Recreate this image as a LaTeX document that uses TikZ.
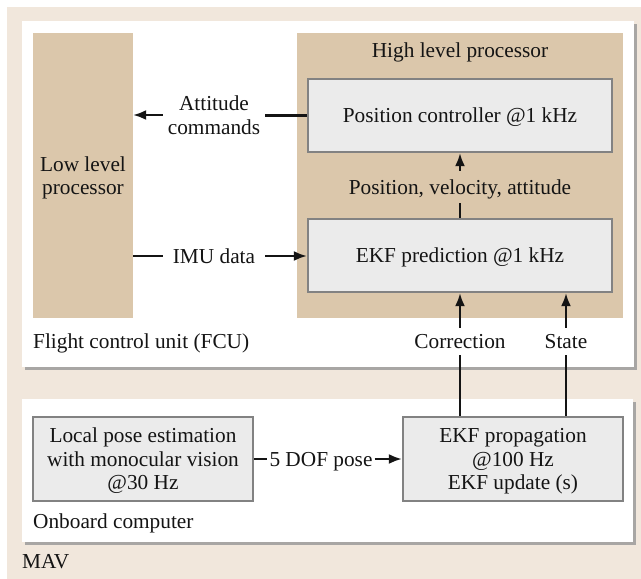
\documentclass[tikz,border=0pt]{standalone}
\usepackage{fontspec}
\setmainfont{Liberation Serif}
\usetikzlibrary{arrows.meta}
\definecolor{mavbg}{RGB}{241,231,220}
\definecolor{tanbg}{RGB}{219,199,171}
\definecolor{boxfill}{RGB}{235,235,235}
\definecolor{boxline}{RGB}{130,130,130}
\definecolor{txt}{RGB}{20,20,20}
\definecolor{shadowc}{RGB}{150,150,150}
\begin{document}
\begin{tikzpicture}[x=1pt,y=-1pt,
  every node/.style={font=\fontsize{21.3}{23.5}\selectfont, text=txt, text depth=0pt},
  procbox/.style={draw=boxline, line width=2.4pt, fill=boxfill, align=center, inner sep=0pt},
  lbl/.style={inner sep=0pt, align=center},
  conn/.style={line width=2.1pt, draw=txt},
  arr/.style={conn, -{Latex[length=13pt,width=10pt]}},
  panel/.style={fill=white},
  shadowbox/.style={fill=shadowc, opacity=0.8}
]
\useasboundingbox (0,0) rectangle (641,579);
\fill[white] (0,0) rectangle (641,579);
% MAV background
\fill[mavbg] (7,7) rectangle (641,579);
% FCU panel
\fill[shadowbox] (25,24) rectangle (637,370);
\fill[panel] (22,21) rectangle (634,367);
% Onboard panel
\fill[shadowbox] (25,402) rectangle (636,545);
\fill[panel] (22,399) rectangle (633,542);

% processors
\node[fill=tanbg, minimum width=100pt, minimum height=285pt, inner sep=0pt, align=center] (low) at (83,175.5) {Low level\\processor};
\fill[tanbg] (297,33) rectangle (623,318);
\node (hlp) at (460,50.5) {High level processor};

% boxes
\node[procbox, minimum width=304pt, minimum height=73pt] (pos) at (460,115.5) {Position controller @1 kHz};
\node[procbox, minimum width=304pt, minimum height=73pt] (ekfp) at (460,255.5) {EKF prediction @1 kHz};
\node[procbox, minimum width=220pt, minimum height=84pt] (vis) at (143,459) {Local pose estimation\\with monocular vision\\@30 Hz};
\node[procbox, minimum width=220pt, minimum height=84pt] (prop) at (513,459) {EKF propagation\\@100 Hz\\EKF update (s)};

% labels
\node[lbl, minimum width=102pt] (att) at (214,115) {Attitude\\commands};
\node[lbl, minimum width=102pt] (imu) at (214,256) {IMU data};
\node[lbl, minimum height=32pt] (pva) at (460,187) {Position, velocity, attitude};
\node[lbl, minimum height=27pt] (corr) at (460,341.5) {Correction};
\node[lbl, minimum height=27pt] (state) at (566,341.5) {State};
\node[inner sep=2pt] (dof) at (321,459) {5 DOF pose};

\node[anchor=west, inner sep=0pt] (fcu) at (33,341) {Flight control unit (FCU)};
\node[anchor=west, inner sep=0pt] (obc) at (33,521) {Onboard computer};
\node[anchor=west, inner sep=0pt] (mav) at (22,561) {MAV};

% connectors
\draw[conn] (pos.west) -- (att.east |- pos.west);
\draw[arr] (att.west) -- (low.east |- att.west);
\draw[conn] (low.east |- imu.west) -- (imu.west);
\draw[arr] (imu.east) -- (ekfp.west |- imu.east);
\draw[conn] (ekfp.north) -- (pva.south);
\draw[arr] (pva.north) -- (pos.south);
\draw[conn] (prop.north -| corr.south) -- (corr.south);
\draw[arr] (corr.north) -- (ekfp.south -| corr.north);
\draw[conn] (prop.north -| state.south) -- (state.south);
\draw[arr] (state.north) -- (ekfp.south -| state.north);
\draw[conn] (vis.east) -- (dof.west);
\draw[arr] (dof.east) -- (prop.west);
\end{tikzpicture}
\end{document}
